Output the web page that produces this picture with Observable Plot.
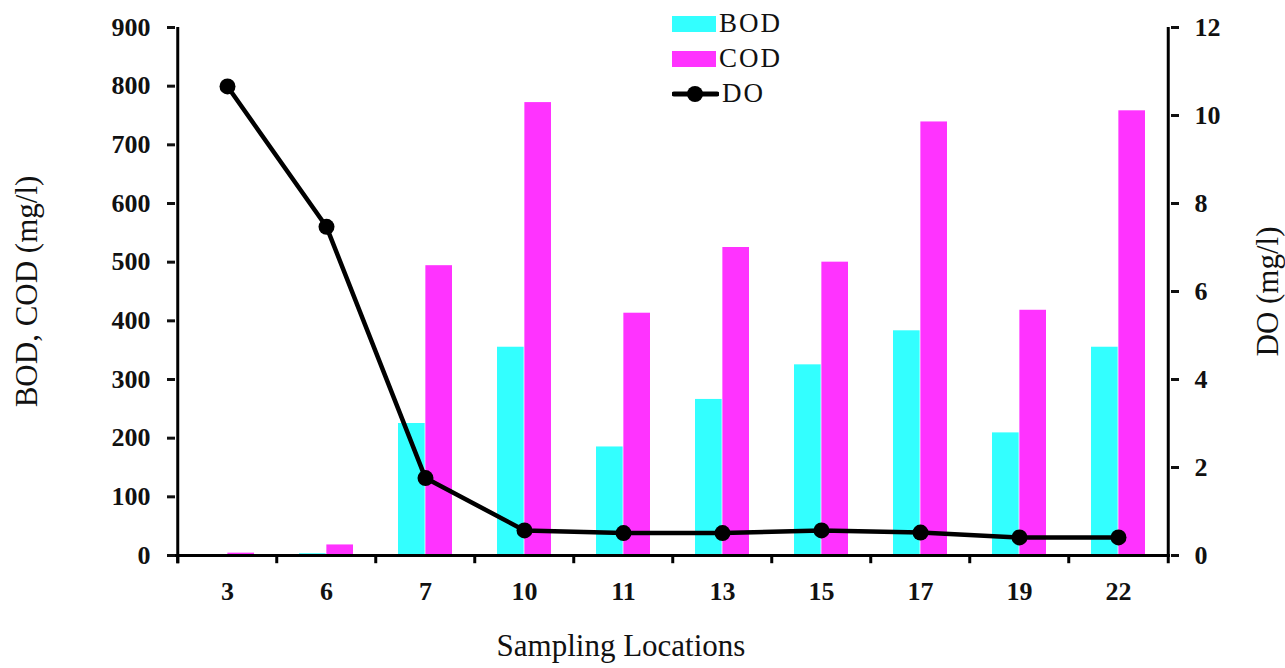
<!DOCTYPE html>
<html>
<head>
<meta charset="utf-8">
<script src="https://cdn.jsdelivr.net/npm/d3@7"></script>
<script src="https://cdn.jsdelivr.net/npm/@observablehq/plot@0.6"></script>
<style>
  body { margin: 0; background: white; }
  #wrap { position: relative; width: 1285px; height: 668px; overflow: hidden; }
  #legend { position: absolute; left: 672px; top: 6px; font-family: "Liberation Serif", serif; font-size: 27px; letter-spacing: 2px; color: #111; }
  #legend .row { display: flex; align-items: center; height: 35px; }
  #legend .sw { width: 44px; height: 16px; margin-right: 3px; }
  #legend svg { margin-right: 3px; }
  #chart svg text { font-family: "Liberation Serif", serif; }
</style>
</head>
<body>
<div id="wrap">
  <div id="chart"></div>
  <div id="legend"></div>
</div>
<script>
const locations = ["3", "6", "7", "10", "11", "13", "15", "17", "19", "22"];
const bod = [1, 3, 225, 355, 185, 266, 325, 383, 209, 355];
const cod = [4, 18, 494, 772, 413, 525, 500, 739, 418, 758];
const doVals = [10.66, 7.47, 1.76, 0.57, 0.51, 0.51, 0.57, 0.52, 0.41, 0.41];
const leftTicks = [0, 100, 200, 300, 400, 500, 600, 700, 800, 900];
const rightTicks = [0, 2, 4, 6, 8, 10, 12];
const seriesNames = ["BOD", "COD", "DO"];
const colors = { BOD: "#33ffff", COD: "#ff33ff", DO: "#000000" };

const rows = locations.map((loc, i) => ({ loc, bod: bod[i], cod: cod[i], do: doVals[i] }));
const ratio = 900 / 12; // DO scale -> left scale
const W = 1285, H = 668, mL = 175, mR = 115, mT = 27, mB = 113;
const step = (W - mL - mR) / locations.length;
const padInner = 0.45;
const bw = step * (1 - padInner);
const serif = "Liberation Serif";

const chart = Plot.plot({
  width: W,
  height: H,
  marginLeft: mL,
  marginRight: mR,
  marginTop: mT,
  marginBottom: mB,
  style: { fontFamily: serif, fontSize: "26px", color: "#111", background: "white" },
  x: { type: "band", domain: locations, paddingInner: padInner, paddingOuter: padInner / 2 },
  y: { domain: [0, 900] },
  marks: [
    Plot.barY(rows, { x: "loc", y: "bod", fill: colors.BOD, insetRight: bw / 2 }),
    Plot.barY(rows, { x: "loc", y: "cod", fill: colors.COD, insetLeft: bw / 2 }),
    // axis lines
    Plot.ruleY([0], { stroke: "black", strokeWidth: 3 }),
    Plot.ruleX([locations[0]], { x: d => d, y1: -14, y2: 900, dx: -step / 2, stroke: "black", strokeWidth: 3 }),
    Plot.ruleX([locations[locations.length - 1]], { x: d => d, y1: -14, y2: 900, dx: step / 2, stroke: "black", strokeWidth: 3 }),
    // x boundary ticks
    Plot.ruleX(locations, { x: d => d, y1: 0, y2: -14, dx: -step / 2, stroke: "black", strokeWidth: 3 }),
    // axes
    Plot.axisY({ ticks: leftTicks, tickSize: 8, tickPadding: 17, strokeWidth: 3, label: null, fontWeight: "bold", fontSize: 26, tickFormat: d => String(d) }),
    Plot.axisY({ anchor: "right", ticks: rightTicks.map(v => v * ratio), tickFormat: d => String(Math.round(d / ratio)), tickSize: 8, tickPadding: 16, strokeWidth: 3, label: null, fontWeight: "bold", fontSize: 26 }),
    Plot.axisX({ tickSize: 0, tickPadding: 26, label: null, fontWeight: "bold", fontSize: 26 }),
    // DO line
    Plot.line(rows, { x: "loc", y: d => d.do * ratio, stroke: colors.DO, strokeWidth: 4.5 }),
    Plot.dot(rows, { x: "loc", y: d => d.do * ratio, r: 8, fill: colors.DO }),
    // axis titles
    Plot.text(["BOD, COD (mg/l)"], { text: d => d, frameAnchor: "left", textAnchor: "middle", dx: -148, rotate: -90, fontSize: 31, fontFamily: serif }),
    Plot.text(["DO (mg/l)"], { text: d => d, frameAnchor: "right", textAnchor: "middle", dx: 98, rotate: -90, fontSize: 31, fontFamily: serif }),
    Plot.text(["Sampling Locations"], { text: d => d, frameAnchor: "bottom", textAnchor: "middle", dy: 100, dx: -52, fontSize: 31, fontFamily: serif })
  ]
});
document.getElementById("chart").appendChild(chart);

const legend = document.getElementById("legend");
seriesNames.forEach(name => {
  const row = document.createElement("div");
  row.className = "row";
  if (name === "DO") {
    row.innerHTML = `<svg width="47" height="20"><line x1="2" y1="10" x2="45" y2="10" stroke="black" stroke-width="5" stroke-linecap="round"/><circle cx="23" cy="10" r="8" fill="black"/></svg><span>${name}</span>`;
  } else {
    row.innerHTML = `<div class="sw" style="background:${colors[name]}"></div><span>${name}</span>`;
  }
  legend.appendChild(row);
});
</script>
</body>
</html>
